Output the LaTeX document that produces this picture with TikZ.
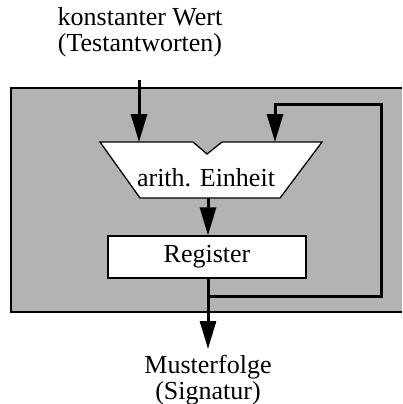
\documentclass[tikz,border=0pt]{standalone}
\usepackage{fontspec}
\setmainfont{Liberation Serif}
\usetikzlibrary{arrows.meta}
\definecolor{panelgray}{HTML}{B3B3B3}
\begin{document}
\begin{tikzpicture}[x=1pt,y=-1pt,
  lbl/.style={font=\fontsize{26}{26.5}\selectfont, align=center, inner sep=0pt},
  flow/.style={line width=3pt, -{Triangle[length=28pt,width=16pt]}},
  unit/.style={draw, line width=1.3pt, fill=white}]
\useasboundingbox (0,0) rectangle (402,404);
% shaded module frame
\fill[panelgray] (11,88) rectangle (402,312);
\draw[line width=1.1pt] (402,88) -- (11,88) -- (11,312) -- (402,312);
% arithmetic unit with input notch
\draw[unit] (100,142) -- (193,142) -- (207,154) -- (222,142) -- (322,142)
  -- (280,198) -- (140,198) -- cycle;
\node[lbl] (alu) at (206,178) {arith. Einheit};
\coordinate (aluin1) at (139,142);
\coordinate (aluin2) at (275,142);
\coordinate (aluout) at (208,198);
% register
\node[unit, minimum width=198pt, minimum height=42pt, inner sep=0pt] (reg) at (207,257)
  {\fontsize{26}{26.5}\selectfont Register};
% labels
\node[lbl] (cin) at (140,32) {konstanter Wert\\(Testantworten)};
\node[lbl] (sig) at (208,380) {Musterfolge\\(Signatur)};
% connectors
\coordinate (cintail) at (139,80);
\draw[flow] (cintail) -- (aluin1);
\draw[flow] (aluout) -- (reg.north -| aluout);
\coordinate (tap) at (208,296);
\coordinate (outtip) at (208,349);
\draw[flow] (reg.south -| tap) -- (outtip);
\draw[flow] (tap) -- (381,296) -- (381,104) -- (275,104) -- (aluin2);
\end{tikzpicture}
\end{document}
